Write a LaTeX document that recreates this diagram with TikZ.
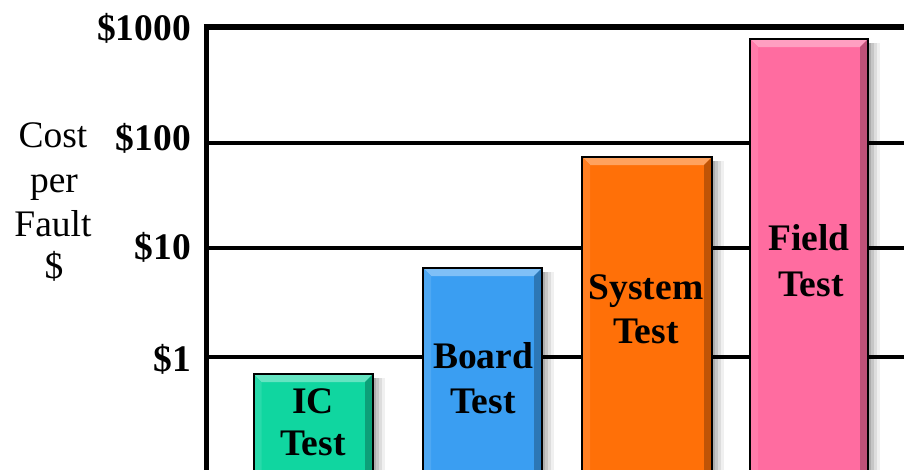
\documentclass[tikz,border=0pt]{standalone}
\usepackage{fontspec}
\setmainfont{Liberation Serif}
\definecolor{icgreen}{RGB}{16,214,160}
\definecolor{boardblue}{RGB}{58,158,242}
\definecolor{sysorange}{RGB}{255,112,8}
\definecolor{fieldpink}{RGB}{255,108,160}
\tikzset{
  big/.style={font=\bfseries\fontsize{37.5}{43}\selectfont, inner sep=0pt},
  plain/.style={font=\fontsize{37.5}{43}\selectfont, inner sep=0pt},
  grid/.style={line width=3.5pt},
  axis/.style={line width=5.5pt},
}
\newcommand{\drawbar}[4]{%
  \foreach \s/\o in {12/0.06,9/0.08,6/0.10,3/0.12}{
    \fill[black,opacity=\o] (#2,#3+4) rectangle (#2+\s,480);
  }
  \fill[#4] (#1,#3) rectangle (#2,480);
  \fill[#4!65!white] (#1,#3) -- (#2,#3) -- (#2-8,#3+8) -- (#1+8,#3+8) -- cycle;
  \fill[#4!90!white] (#1,#3) -- (#1+8,#3+8) -- (#1+8,480) -- (#1,480) -- cycle;
  \fill[#4!75!black] (#2,#3) -- (#2,480) -- (#2-8,480) -- (#2-8,#3+8) -- cycle;
  \draw[line width=2pt] (#1,#3) rectangle (#2,480);
}
\begin{document}
\begin{tikzpicture}[x=1pt,y=-1pt]
\useasboundingbox (0,0) rectangle (904,469);
\clip (0,0) rectangle (904,469);
\fill[white] (0,0) rectangle (904,469);
% grid lines
\coordinate (g1l) at (206,143); \coordinate (g1r) at (910,143);
\coordinate (g2l) at (206,248); \coordinate (g2r) at (910,248);
\coordinate (g3l) at (206,357); \coordinate (g3r) at (910,357);
\draw[grid] (g1l) -- (g1r);
\draw[grid] (g2l) -- (g2r);
\draw[grid] (g3l) -- (g3r);
% frame
\coordinate (tl) at (206.5,27); \coordinate (tr) at (910,27); \coordinate (bl) at (206.5,480);
\draw[axis] (bl) -- (206.5,27);
\draw[line width=6pt] (203.75,27) -- (tr);
% bars
\drawbar{253.5}{373}{374}{icgreen}
\drawbar{423}{542}{268}{boardblue}
\drawbar{582}{712}{157}{sysorange}
\drawbar{750}{868}{39}{fieldpink}
% y labels
\node[big,anchor=base east] (l1000) at (191,40) {\$1000};
\node[big,anchor=base east] (l100) at (191,150) {\$100};
\node[big,anchor=base east] (l10) at (191,259) {\$10};
\node[big,anchor=base east] (l1) at (191,371) {\$1};
% axis title
\node[plain,anchor=base] (c1) at (53,147) {Cost};
\node[plain,anchor=base] (c2) at (54,192) {per};
\node[plain,anchor=base] (c3) at (53,236) {Fault};
\node[plain,anchor=base] (c4) at (54,278) {\$};
% bar labels
\node[big,anchor=base] (ic1) at (313,413) {IC};
\node[big,anchor=base] (ic2) at (313,455) {Test};
\node[big,anchor=base] (bd1) at (483,368) {Board};
\node[big,anchor=base] (bd2) at (483,413) {Test};
\node[big,anchor=base] (sy1) at (646,299) {System};
\node[big,anchor=base] (sy2) at (646,343) {Test};
\node[big,anchor=base] (fd1) at (809,250) {Field};
\node[big,anchor=base] (fd2) at (811,296) {Test};
\end{tikzpicture}
\end{document}
